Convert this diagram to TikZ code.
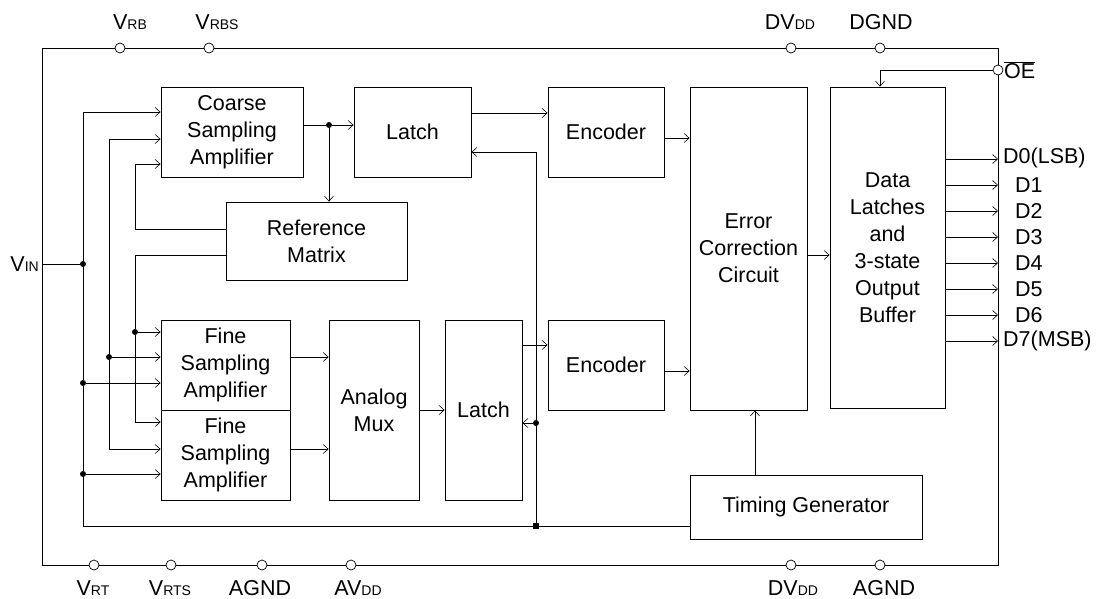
\documentclass[tikz,border=0pt]{standalone}
\usepackage{fontspec}
\setmainfont{Liberation Sans}
\usetikzlibrary{arrows.meta,calc}
\newcommand\blkfont{\fontsize{21.5}{27}\selectfont}
\newcommand\sbs[1]{{\fontsize{14}{14}\selectfont #1}}
\tikzset{
  blk/.style={draw,line width=0.8pt,align=center,inner sep=0pt,font=\blkfont},
  wire/.style={line width=0.8pt},
  sig/.style={line width=0.8pt,-{Straight Barb[length=5pt,width=9pt,line width=0.6pt]}},
  pinc/.style={circle,draw,fill=white,line width=0.7pt,minimum size=10pt,inner sep=0pt},
  jn/.style={circle,fill,inner sep=0pt,minimum size=6pt},
  jsq/.style={rectangle,fill,inner sep=0pt,minimum size=5.5pt},
  lbl/.style={inner sep=0pt,font=\blkfont}
}

\begin{document}
\begin{tikzpicture}[x=1pt,y=-1pt]
\useasboundingbox (0,0) rectangle (1097,598);
\draw[wire] (42,48) rectangle (998,565);

\node[blk,minimum width=142pt,minimum height=90pt] (coarse) at (232,132) {Coarse\\Sampling\\Amplifier};
\node[blk,minimum width=117pt,minimum height=90pt] (latch1) at (412.5,132) {Latch};
\node[blk,minimum width=116pt,minimum height=90pt] (enc1) at (606,132) {Encoder};
\node[blk,minimum width=181pt,minimum height=78pt] (refm) at (316.5,241) {Reference\\Matrix};
\node[blk,minimum width=129pt,minimum height=90pt] (fine1) at (225.5,365) {Fine\\Sampling\\Amplifier};
\node[blk,minimum width=129pt,minimum height=90pt] (fine2) at (225.5,455) {Fine\\Sampling\\Amplifier};
\node[blk,minimum width=90pt,minimum height=180pt] (mux) at (374,410) {Analog\\Mux};
\node[blk,minimum width=77pt,minimum height=180pt] (latch2) at (483.5,410) {Latch};
\node[blk,minimum width=116pt,minimum height=90pt] (enc2) at (606,365) {Encoder};
\node[blk,minimum width=117pt,minimum height=323pt] (ecc) at (748.5,248.5) {Error\\Correction\\Circuit};
\node[blk,minimum width=115pt,minimum height=321pt] (dl) at (887.5,247.5) {Data\\Latches\\and\\3-state\\Output\\Buffer};
\node[blk,minimum width=232pt,minimum height=64pt] (tg) at (806,507) {Timing Generator};

\coordinate (vin) at (42,264);
\node[jn] (ja) at (83,264) {};
\node[jn] (jb1) at (83,383) {};
\node[jn] (jb2) at (83,474) {};
\node[jn] (jc) at (109,357) {};
\node[jn] (jd) at (135,332) {};
\node[jn] (je) at (329,125) {};
\node[jn] (jf) at (536,423) {};
\node[jsq] (jg) at (536,526) {};

\draw[wire] (vin) -- (ja);
\draw[sig] (ja) |- (coarse.west |- 0,112);
\draw[wire] (ja) -- (jb1) -- (jb2) |- (jg) -- (tg.west |- jg);
\draw[sig] (jb1) -- (fine1.west |- jb1);
\draw[sig] (jb2) -- (fine2.west |- jb2);

\draw[sig] (jc) |- (coarse.west |- 0,139);
\draw[sig] (jc) -- (fine1.west |- jc);
\draw[sig] (jc) |- (fine2.west |- 0,449);

\draw[sig] (refm.west |- 0,229) -| (135,164) -- (coarse.west |- 0,164);
\draw[wire] (refm.west |- 0,255) -| (jd);
\draw[sig] (jd) -- (fine1.west |- jd);
\draw[sig] (jd) |- (fine2.west |- 0,422);

\draw[wire] (coarse.east |- je) -- (je);
\draw[sig] (je) -- (latch1.west |- je);
\draw[sig] (je) -- (refm.north -| je);
\draw[sig] (latch1.east |- 0,113) -- (enc1.west |- 0,113);
\draw[sig] (enc1.east |- 0,138) -- (ecc.west |- 0,138);

\draw[sig] (fine1.east |- 0,357) -- (mux.west |- 0,357);
\draw[sig] (fine2.east |- 0,449) -- (mux.west |- 0,449);
\draw[sig] (mux.east |- 0,410) -- (latch2.west |- 0,410);
\draw[sig] (latch2.east |- 0,345) -- (enc2.west |- 0,345);
\draw[sig] (enc2.east |- 0,371) -- (ecc.west |- 0,371);
\draw[sig] (jg) -- (jf) |- (latch1.east |- 0,152);
\draw[sig] (jf) -- (latch2.east |- jf);
\draw[sig] (tg.north -| 755,0) -- (ecc.south -| 755,0);
\draw[sig] (ecc.east |- 0,255) -- (dl.west |- 0,255);

\node[pinc] (oe) at (998,70) {};
\draw[sig] (oe) -| (dl.north -| 880,0);

\foreach \y [count=\i from 0] in {159,185,211,237,263,289,315,341}
  \draw[sig] (dl.east |- 0,\y) -- (998,\y);
\node[lbl,anchor=west] (d0) at (1003,158) {D0(LSB)};
\foreach \y [count=\i from 1] in {185,211,237,263,289,315}
  \node[lbl,anchor=west] (d\i) at (1015,\y) {D\i};
\node[lbl,anchor=west] (d7) at (1003,341) {D7(MSB)};
\node[lbl,anchor=west] (oel) at (1004,70) {$\overline{\hbox{OE}}$};

\node[pinc] (vrb) at (120,48) {};
\node[pinc] (vrbs) at (209,48) {};
\node[pinc] (dvddt) at (791,48) {};
\node[pinc] (dgnd) at (880,48) {};
\node[pinc] (vrt) at (94,565) {};
\node[pinc] (vrts) at (171,565) {};
\node[pinc] (agnda) at (262,565) {};
\node[pinc] (avdd) at (351,565) {};
\node[pinc] (dvddb) at (791,565) {};
\node[pinc] (agndb) at (880,565) {};

\node[lbl] at (130,22) {V\sbs{RB}};
\node[lbl] at (217,22) {V\sbs{RBS}};
\node[lbl] at (790,22) {DV\sbs{DD}};
\node[lbl] at (881,22) {DGND};
\node[lbl] at (93,588) {V\sbs{RT}};
\node[lbl] at (170,588) {V\sbs{RTS}};
\node[lbl] at (260,588) {AGND};
\node[lbl] at (358,588) {AV\sbs{DD}};
\node[lbl] at (793,588) {DV\sbs{DD}};
\node[lbl] at (884,588) {AGND};
\node[lbl,anchor=east] at (39,264) {V\sbs{IN}};
\end{tikzpicture}
\end{document}
